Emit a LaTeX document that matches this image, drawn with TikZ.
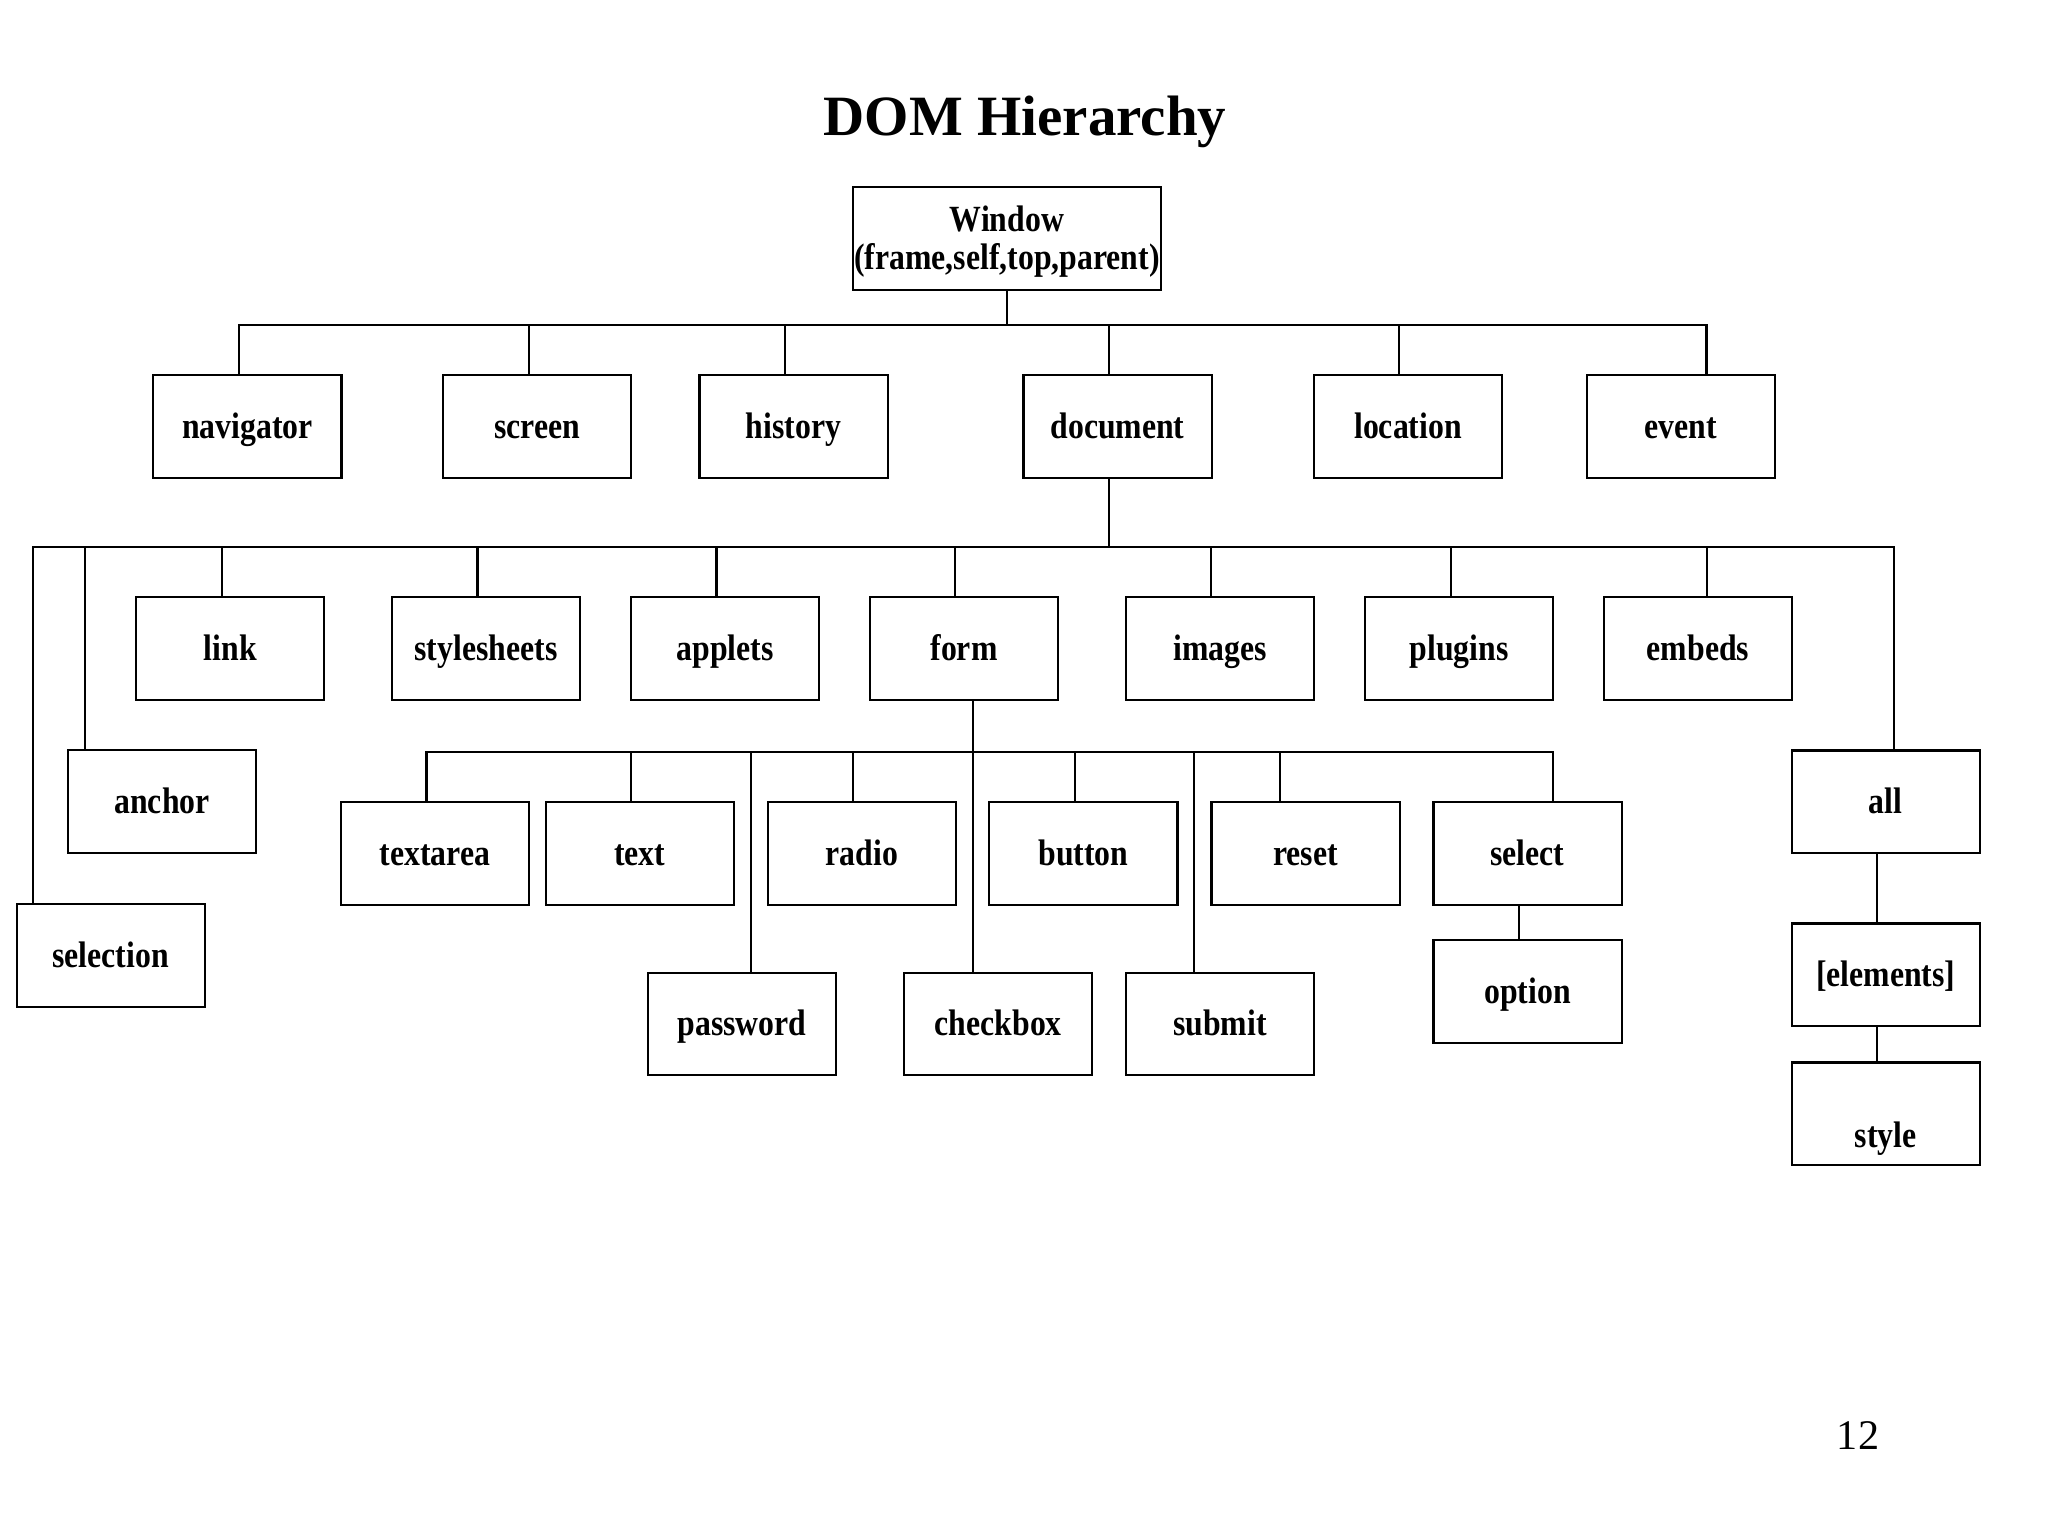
\documentclass[tikz,border=0pt]{standalone}
\usepackage{fontspec}
\setmainfont{Liberation Serif}
\newfontfamily\labelfont{Liberation Serif}[FakeStretch=0.86]
\usetikzlibrary{positioning}

\begin{document}
\begin{tikzpicture}[
  x=0.01cm,y=-0.01cm,
  box/.style={draw,line width=0.6pt,inner sep=0pt,minimum width=1.88cm,minimum height=1.025cm,
    font={\labelfont\bfseries\fontsize{10.5}{10.8}\selectfont}},
  leaf/.style={box,text height=8pt,text depth=1.3pt},
  wire/.style={line width=0.6pt}
]
\useasboundingbox (0,0) rectangle (2048,1536);
\node[anchor=base,font={\bfseries\fontsize{16.2}{20}\selectfont}] (title) at (1025,135) {DOM Hierarchy};
\node[box,minimum width=3.08cm,align=center] (win) at (1007,238.5) {\rule{0pt}{9pt}Window\\(frame,self,top,parent)};
% window children
\node[leaf] (nav) at (247.4,426.6) {navigator};
\node[leaf] (screen) at (537,426.6) {screen};
\node[leaf] (hist) at (793.5,426.6) {history};
\node[leaf] (doc) at (1117.5,426.6) {document};
\node[leaf] (loc) at (1408,426.6) {location};
\node[leaf] (event) at (1681,426.6) {event};
% document children
\node[leaf] (link) at (230.2,648.4) {link};
\node[leaf] (sheets) at (486,648.4) {stylesheets};
\node[leaf] (applets) at (725,648.4) {applets};
\node[leaf] (form) at (964,648.4) {form};
\node[leaf] (images) at (1220,648.4) {images};
\node[leaf] (plugins) at (1459,648.4) {plugins};
\node[leaf] (embeds) at (1698,648.4) {embeds};
\node[leaf] (anchor) at (162,801.7) {anchor};
\node[leaf] (selection) at (110.7,955.5) {selection};
\node[leaf] (all) at (1885.7,801.8) {all};
\node[leaf,below=0.683cm of all] (elem) {[elements]};
\node[leaf,below=0.343cm of elem,text height=19.3pt,text depth=0pt] (sty) {style};
% form children
\node[leaf] (textarea) at (435,853.3) {textarea};
\node[leaf] (text) at (639.8,853.3) {text};
\node[leaf] (radio) at (862,853.3) {radio};
\node[leaf] (button) at (1083.4,853.3) {button};
\node[leaf] (reset) at (1305.5,853.3) {reset};
\node[leaf] (select) at (1527.5,853.3) {select};
\node[leaf,below=0.336cm of select] (option) {option};
\node[leaf] (password) at (742,1024) {password};
\node[leaf] (checkbox) at (998.3,1024) {checkbox};
\node[leaf] (submit) at (1220,1024) {submit};
\node[anchor=base,font={\fontsize{12}{14}\selectfont}] (page) at (1858,1449) {12};

\draw[wire] (win.south) -- ++(0,34) -| ([xshift=-0.087cm]nav.north);
\draw[wire] (win.south) -- ++(0,34) -| ([xshift=-0.08cm]screen.north);
\draw[wire] (win.south) -- ++(0,34) -| ([xshift=-0.085cm]hist.north);
\draw[wire] (win.south) -- ++(0,34) -| ([xshift=-0.085cm]doc.north);
\draw[wire] (win.south) -- ++(0,34) -| ([xshift=-0.086cm]loc.north);
\draw[wire] (win.south) -- ++(0,34) -| ([xshift=0.255cm]event.north);

\draw[wire] ([xshift=-0.085cm]doc.south) -- ++(0,68) -| ([xshift=0.173cm]selection.north west);
\draw[wire] ([xshift=-0.085cm]doc.south) -- ++(0,68) -| ([xshift=0.177cm]anchor.north west);
\draw[wire] ([xshift=-0.085cm]doc.south) -- ++(0,68) -| ([xshift=-0.085cm]link.north);
\draw[wire] ([xshift=-0.085cm]doc.south) -- ++(0,68) -| ([xshift=-0.085cm]sheets.north);
\draw[wire] ([xshift=-0.085cm]doc.south) -- ++(0,68) -| ([xshift=-0.085cm]applets.north);
\draw[wire] ([xshift=-0.085cm]doc.south) -- ++(0,68) -| ([xshift=-0.086cm]form.north);
\draw[wire] ([xshift=-0.085cm]doc.south) -- ++(0,68) -| ([xshift=-0.086cm]images.north);
\draw[wire] ([xshift=-0.085cm]doc.south) -- ++(0,68) -| ([xshift=-0.083cm]plugins.north);
\draw[wire] ([xshift=-0.085cm]doc.south) -- ++(0,68) -| ([xshift=0.087cm]embeds.north);
\draw[wire] ([xshift=-0.085cm]doc.south) -- ++(0,68) -| ([xshift=0.083cm]all.north);
\draw[wire] ([xshift=-0.087cm]all.south) -- ([xshift=-0.087cm]elem.north);
\draw[wire] ([xshift=-0.087cm]elem.south) -- ([xshift=-0.087cm]sty.north);

\draw[wire] ([xshift=0.09cm]form.south) -- ++(0,51) -| ([xshift=-0.085cm]textarea.north);
\draw[wire] ([xshift=0.09cm]form.south) -- ++(0,51) -| ([xshift=-0.088cm]text.north);
\draw[wire] ([xshift=0.09cm]form.south) -- ++(0,51) -| ([xshift=0.09cm]password.north);
\draw[wire] ([xshift=0.09cm]form.south) -- ++(0,51) -| ([xshift=-0.09cm]radio.north);
\draw[wire] ([xshift=0.09cm]form.south) -- ([xshift=0.09cm]form.south |- checkbox.north);
\draw[wire] ([xshift=0.09cm]form.south) -- ++(0,51) -| ([xshift=-0.084cm]button.north);
\draw[wire] ([xshift=0.09cm]form.south) -- ++(0,51) -| ([xshift=-0.256cm]submit.north);
\draw[wire] ([xshift=0.09cm]form.south) -- ++(0,51) -| ([xshift=-0.258cm]reset.north);
\draw[wire] ([xshift=0.09cm]form.south) -- ++(0,51) -| ([xshift=0.255cm]select.north);
\draw[wire] ([xshift=-0.085cm]select.south) -- ([xshift=-0.085cm]option.north);
\end{tikzpicture}
\end{document}
